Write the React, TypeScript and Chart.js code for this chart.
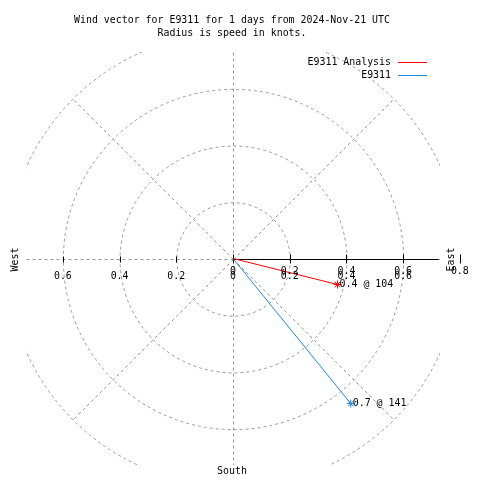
import React, { useEffect, useRef } from "react";
import { Chart, registerables } from "chart.js";

Chart.register(...registerables);

const titleLines = [
  "Wind vector for E9311 for 1 days from 2024-Nov-21 UTC",
  "Radius is speed in knots.",
];
const seriesNames = ["E9311 Analysis", "E9311"];
const seriesColors = ["#ff0000", "#1e88e5"];
const speeds = [0.38, 0.66];
const directions = [104, 141];
const ringValues = [0.2, 0.4, 0.6, 0.8];
const spokeAngles = [0, 45, 90, 135, 180, 225, 270, 315];
const spokeLength = 0.8;
const rightTickValues = [0, 0.2, 0.4, 0.6, 0.8];
const rightTickLabels = ["0", "0.2", "0.4", "0.6", "0.8"];
const xTickValues = [0, 0.2, 0.4, 0.6];
const xTickLabels = ["0", "0.2", "0.4", "0.6"];
const leftTickValues = [0.2, 0.4, 0.6];
const leftTickLabels = ["0.2", "0.4", "0.6"];
const compassLabels = ["East", "West", "South"];
const axisExtent = 0.73;
const axisLineEnd = 0.725;

const FONT = "11px 'DejaVu Sans Mono', 'Liberation Mono', monospace";
const SX = 0.9;
const GRID = "#999999";

const toXY = (s: number, d: number) => ({
  x: s * Math.sin((d * Math.PI) / 180),
  y: s * Math.cos((d * Math.PI) / 180),
});

function drawText(ctx: CanvasRenderingContext2D, text: string, x: number, y: number, align: CanvasTextAlign, rot = 0) {
  ctx.save();
  ctx.translate(x, y);
  if (rot) ctx.rotate(rot);
  ctx.scale(SX, 1);
  ctx.textAlign = align;
  ctx.textBaseline = "middle";
  ctx.fillText(text, 0, 0);
  ctx.restore();
}

const polarPlugin = {
  id: "polarGrid",
  beforeDatasetsDraw(chart: any) {
    const { ctx, chartArea, scales } = chart;
    const xs = scales.x;
    const ys = scales.y;
    const cx = xs.getPixelForValue(0);
    const cy = ys.getPixelForValue(0);
    const unit = xs.getPixelForValue(1) - cx;
    const pcx = Math.round(cx) + 0.5;
    const pcy = Math.round(cy) + 0.5;
    ctx.save();
    ctx.beginPath();
    ctx.rect(chartArea.left, chartArea.top, chartArea.right - chartArea.left, chartArea.bottom - chartArea.top);
    ctx.clip();
    ctx.strokeStyle = GRID;
    ctx.lineWidth = 1;
    ctx.setLineDash([3, 3]);
    ringValues.forEach((r) => {
      ctx.beginPath();
      ctx.arc(pcx, pcy, r * unit, 0, Math.PI * 2);
      ctx.stroke();
    });
    spokeAngles.forEach((a) => {
      const rad = (a * Math.PI) / 180;
      ctx.beginPath();
      ctx.moveTo(pcx, pcy);
      ctx.lineTo(pcx + Math.sin(rad) * spokeLength * unit, pcy - Math.cos(rad) * spokeLength * unit);
      ctx.stroke();
    });
    ctx.restore();

    // axis line and ticks
    ctx.save();
    ctx.strokeStyle = "#000";
    ctx.lineWidth = 1;
    ctx.setLineDash([]);
    ctx.beginPath();
    ctx.moveTo(cx, pcy);
    ctx.lineTo(xs.getPixelForValue(axisLineEnd), pcy);
    ctx.stroke();
    rightTickValues.forEach((v) => {
      const px = Math.round(xs.getPixelForValue(v)) + 0.5;
      ctx.beginPath();
      ctx.moveTo(px, pcy - 5);
      ctx.lineTo(px, pcy + 4);
      ctx.stroke();
    });
    leftTickValues.forEach((v) => {
      const px = Math.round(xs.getPixelForValue(-v)) + 0.5;
      ctx.beginPath();
      ctx.moveTo(px, pcy - 3);
      ctx.lineTo(px, pcy + 3);
      ctx.stroke();
    });
    ctx.restore();
  },
  afterDraw(chart: any) {
    const { ctx, scales } = chart;
    const xs = scales.x;
    const ys = scales.y;
    const cx = xs.getPixelForValue(0);
    const cy = ys.getPixelForValue(0);
    ctx.save();
    ctx.font = FONT;
    ctx.fillStyle = "#000";
    drawText(ctx, titleLines[0], 232, 20, "center");
    drawText(ctx, titleLines[1], 232, 33, "center");

    // tick labels (radial axis and x axis overlap on the right)
    rightTickValues.forEach((v, i) => {
      drawText(ctx, rightTickLabels[i], xs.getPixelForValue(v), cy + 13, "center");
    });
    xTickValues.forEach((v, i) => {
      drawText(ctx, xTickLabels[i], xs.getPixelForValue(v), cy + 17.5, "center");
    });
    leftTickValues.forEach((v, i) => {
      drawText(ctx, leftTickLabels[i], xs.getPixelForValue(-v), cy + 17.5, "center");
    });

    // compass labels
    drawText(ctx, compassLabels[2], cx - 1, 471, "center");
    drawText(ctx, compassLabels[0], 451, cy + 1, "center", -Math.PI / 2);
    drawText(ctx, compassLabels[1], 15, cy + 1, "center", -Math.PI / 2);

    // vector labels
    speeds.forEach((s, i) => {
      const p = toXY(s, directions[i]);
      const px = xs.getPixelForValue(p.x);
      const py = ys.getPixelForValue(p.y);
      drawText(ctx, `${s.toFixed(1)} @ ${directions[i]}`, px + 2, py, "left");
    });

    // legend
    seriesNames.forEach((n, i) => {
      const y = 62 + i * 13;
      ctx.fillStyle = "#000";
      drawText(ctx, n, 391, y, "right");
      ctx.strokeStyle = seriesColors[i];
      ctx.lineWidth = 1;
      ctx.beginPath();
      ctx.moveTo(398, Math.round(y) + 0.5);
      ctx.lineTo(427, Math.round(y) + 0.5);
      ctx.stroke();
    });
    ctx.restore();
  },
};

export default function App() {
  const ref = useRef<HTMLCanvasElement | null>(null);
  useEffect(() => {
    if (!ref.current) return;
    const datasets = speeds.map((s, i) => {
      const p = toXY(s, directions[i]);
      return {
        label: seriesNames[i],
        data: [{ x: 0, y: 0 }, p],
        showLine: true,
        borderColor: seriesColors[i],
        backgroundColor: seriesColors[i],
        borderWidth: 1,
        pointStyle: "star",
        pointRadius: [0, 4],
        pointBorderWidth: 1,
        pointBorderColor: seriesColors[i],
      };
    });
    const chart = new Chart(ref.current, {
      type: "scatter",
      data: { datasets: datasets as any },
      options: {
        animation: false,
        responsive: false,
        layout: { padding: { left: 26, right: 40, top: 52, bottom: 15 } },
        plugins: { legend: { display: false }, title: { display: false }, tooltip: { enabled: false } },
        scales: {
          x: { type: "linear", min: -axisExtent, max: axisExtent, display: false },
          y: { type: "linear", min: -axisExtent, max: axisExtent, display: false },
        },
      },
      plugins: [polarPlugin],
    });
    return () => chart.destroy();
  }, []);
  return (
    <div style={{ position: "fixed", left: 0, top: 0, width: 480, height: 480, background: "#fff" }}>
      <canvas ref={ref} width={480} height={480} style={{ width: 480, height: 480 }} />
    </div>
  );
}
